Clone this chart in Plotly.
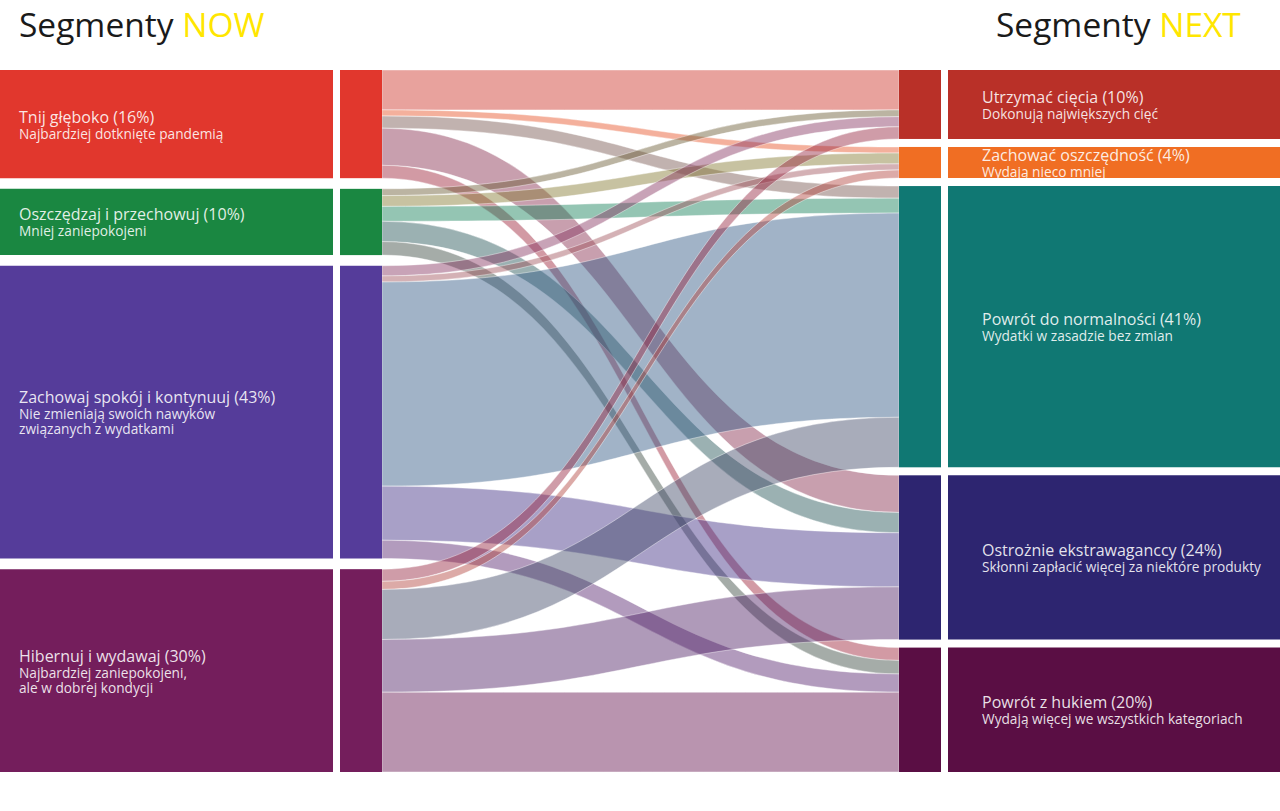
import plotly.graph_objects as go

# ---------------- data ----------------
now_names = ["Tnij głęboko", "Oszczędzaj i przechowuj", "Zachowaj spokój i kontynuuj", "Hibernuj i wydawaj"]
now_pct = [16, 10, 43, 30]
now_sub = ["Najbardziej dotknięte pandemią",
           "Mniej zaniepokojeni",
           "Nie zmieniają swoich nawyków<br>związanych z wydatkami",
           "Najbardziej zaniepokojeni,<br>ale w dobrej kondycji"]

next_names = ["Utrzymać cięcia", "Zachować oszczędność", "Powrót do normalności",
              "Ostrożnie ekstrawaganccy", "Powrót z hukiem"]
next_pct = [10, 4, 41, 24, 20]
next_sub = ["Dokonują największych cięć",
            "Wydają nieco mniej",
            "Wydatki w zasadzie bez zmian",
            "Skłonni zapłacić więcej za niektóre produkty",
            "Wydają więcej we wszystkich kategoriach"]

# flows (% of respondents) from each NOW segment to NEXT segments (order as next_names)
flow_tnij = [5.9, 0.9, 1.8, 5.5, 1.9]
flow_oszczedzaj = [1.0, 1.6, 2.2, 3.0, 2.0]
flow_zachowaj = [1.5, 0.9, 30.2, 8.0, 2.7]
flow_hibernuj = [1.8, 1.2, 7.4, 7.8, 11.8]
flows = [flow_tnij, flow_oszczedzaj, flow_zachowaj, flow_hibernuj]

now_colors = ["#E1372D", "#1A8741", "#553C9A", "#741E5C"]
next_colors = ["#B93028", "#F06E23", "#107873", "#2D2570", "#5A0E44"]

# ---------------- geometry ----------------
W, H = 1280, 811
TOP, BOT = 70, 772
PH = BOT - TOP
X0, X1 = 340, 941
THICK = 42
PAD = 8
FONT = "Open Sans"


def hex_rgb(h):
    h = h.lstrip("#")
    return [int(h[i:i + 2], 16) for i in (0, 2, 4)]


def mix(c1, c2, a=0.5):
    r1, r2 = hex_rgb(c1), hex_rgb(c2)
    m = [round((x + y) / 2) for x, y in zip(r1, r2)]
    return f"rgba({m[0]},{m[1]},{m[2]},{a})"


src, tgt, val, lcol = [], [], [], []
for i, row in enumerate(flows):
    for j, v in enumerate(row):
        src.append(i)
        tgt.append(4 + j)
        val.append(v)
        lcol.append(mix(now_colors[i], next_colors[j], 0.46))

left_vals = [sum(r) for r in flows]
right_vals = [sum(r[j] for r in flows) for j in range(len(next_names))]
ky = min((PH - (len(left_vals) - 1) * PAD) / sum(left_vals),
         (PH - (len(right_vals) - 1) * PAD) / sum(right_vals))


def stack(vals):
    hs = [v * ky for v in vals]
    gap = (PH - sum(hs)) / (len(hs) - 1)
    out, y = [], TOP
    for h in hs:
        out.append((y, y + h))
        y += h + gap
    return out


left_ext = stack(left_vals)
right_ext = stack(right_vals)

dw = X1 - X0
node_x = [THICK / 2 / dw] * 4 + [1 - THICK / 2 / dw] * 5
node_y = [((a + b) / 2 - TOP) / PH for a, b in left_ext + right_ext]

fig = go.Figure(go.Sankey(
    arrangement="fixed",
    domain=dict(x=[X0 / W, X1 / W], y=[1 - BOT / H, 1 - TOP / H]),
    node=dict(
        label=[""] * 9,
        customdata=now_names + next_names,
        hovertemplate="%{customdata}<extra></extra>",
        color=now_colors + next_colors,
        thickness=THICK,
        pad=PAD,
        line=dict(width=0),
        x=node_x,
        y=node_y,
    ),
    link=dict(source=src, target=tgt, value=val, color=lcol,
              line=dict(color="rgba(255,255,255,0.7)", width=0.6)),
))

shapes = []
annotations = []


def py(p):
    return 1 - p / H


def add_box(x0, x1, ext, color, title, sub, tx):
    a, b = ext
    shapes.append(dict(type="rect", xref="paper", yref="paper",
                       x0=x0 / W, x1=x1 / W, y0=py(b), y1=py(a),
                       fillcolor=color, line=dict(width=0), layer="below"))
    txt = (f"<span style='font-size:16px;color:#ffffff'>{title}</span><br>"
           f"<span style='font-size:13.7px'>{sub}</span>")
    annotations.append(dict(xref="paper", yref="paper", x=tx / W, y=py((a + b) / 2),
                            xanchor="left", yanchor="middle", align="left",
                            showarrow=False, text=txt, borderpad=0,
                            font=dict(family=FONT, size=12, color="rgba(255,255,255,0.88)")))


for k in range(len(now_names)):
    add_box(0, 333, left_ext[k], now_colors[k], f"{now_names[k]} ({now_pct[k]}%)", now_sub[k], 18)
for k in range(len(next_names)):
    add_box(948, 1280, right_ext[k], next_colors[k], f"{next_names[k]} ({next_pct[k]}%)", next_sub[k], 981)

annotations.append(dict(xref="paper", yref="paper", x=18 / W, y=1, xanchor="left", yanchor="top",
                        showarrow=False, borderpad=0,
                        text="Segmenty <span style='color:#FFE600'>NOW</span>",
                        font=dict(family=FONT, size=33.5, color="#1a1a1a")))
annotations.append(dict(xref="paper", yref="paper", x=1242 / W, y=1, xanchor="right", yanchor="top",
                        showarrow=False, borderpad=0,
                        text="Segmenty <span style='color:#FFE600'>NEXT</span>",
                        font=dict(family=FONT, size=33.5, color="#1a1a1a")))

fig.update_layout(
    width=W, height=H,
    margin=dict(l=0, r=0, t=0, b=0),
    paper_bgcolor="white",
    plot_bgcolor="white",
    shapes=shapes,
    annotations=annotations,
    font=dict(family=FONT),
    showlegend=False,
)

fig.write_html("out.html", config={"displayModeBar": False},
               post_script="document.body.style.margin='0';")
